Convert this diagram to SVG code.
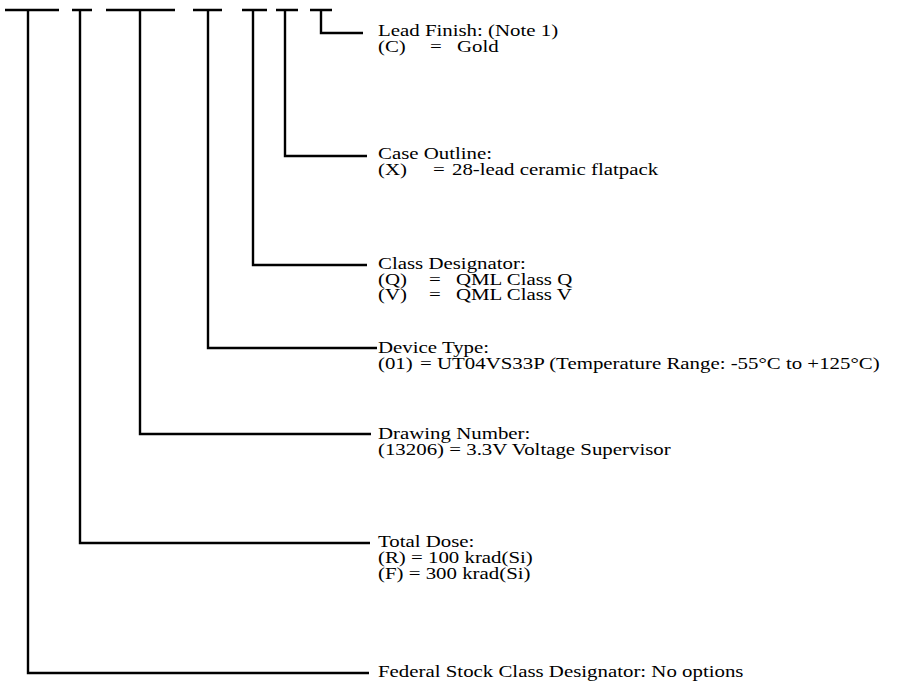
<svg xmlns="http://www.w3.org/2000/svg" width="898" height="684" viewBox="0 0 898 684">
<style>
text{font-family:"Liberation Serif","Times New Roman",serif;font-size:16.5px;fill:#000}
.ln{stroke:#000;stroke-width:2.4;fill:none;stroke-linecap:butt;stroke-linejoin:miter}
</style>
<rect width="898" height="684" fill="#fff"/>
<g id="connectors">
<path class="ln" d="M5,10H59 M72,10H92 M106,10H175 M193,10H222 M242,10H267 M276,10H298 M310,10H332"/>
<path class="ln" d="M321,10V33H363"/>
<path class="ln" d="M285,10V156H367"/>
<path class="ln" d="M253,10V265H367"/>
<path class="ln" d="M208,10V348H377"/>
<path class="ln" d="M140,10V434H371"/>
<path class="ln" d="M80,10V543H370"/>
<path class="ln" d="M28,10V673H369"/>
</g>
<g id="lead-finish">
<text transform="translate(378,36) scale(1.265,1)">Lead Finish: (Note 1)</text>
<text transform="translate(378,52) scale(1.265,1)">(C)</text>
<text transform="translate(430,52) scale(1.265,1)">=</text>
<text transform="translate(457,52) scale(1.265,1)">Gold</text>
</g>
<g id="case-outline">
<text transform="translate(378,159) scale(1.265,1)">Case Outline:</text>
<text transform="translate(378,175) scale(1.265,1)">(X)</text>
<text transform="translate(433,175) scale(1.265,1)">=</text>
<text transform="translate(452,175) scale(1.265,1)">28-lead ceramic flatpack</text>
</g>
<g id="class-designator">
<text transform="translate(378,269) scale(1.265,1)">Class Designator:</text>
<text transform="translate(378,285) scale(1.265,1)">(Q)</text>
<text transform="translate(429,285) scale(1.265,1)">=</text>
<text transform="translate(456,285) scale(1.265,1)">QML Class Q</text>
<text transform="translate(378,300) scale(1.265,1)">(V)</text>
<text transform="translate(429,300) scale(1.265,1)">=</text>
<text transform="translate(456,300) scale(1.265,1)">QML Class V</text>
</g>
<g id="device-type">
<text transform="translate(378,353) scale(1.265,1)">Device Type:</text>
<text transform="translate(378,369) scale(1.265,1)">(01)</text>
<text transform="translate(420,369) scale(1.265,1)">= UT04VS33P (Temperature Range: -55°C to +125°C)</text>
</g>
<g id="drawing-number">
<text transform="translate(378,439) scale(1.265,1)">Drawing Number:</text>
<text transform="translate(378,455) scale(1.265,1)">(13206) = 3.3V Voltage Supervisor</text>
</g>
<g id="total-dose">
<text transform="translate(378,547) scale(1.265,1)">Total Dose:</text>
<text transform="translate(378,563) scale(1.265,1)">(R) = 100 krad(Si)</text>
<text transform="translate(378,579) scale(1.265,1)">(F) = 300 krad(Si)</text>
</g>
<g id="federal-stock">
<text transform="translate(378,677) scale(1.265,1)">Federal Stock Class Designator: No options</text>
</g>
</svg>
